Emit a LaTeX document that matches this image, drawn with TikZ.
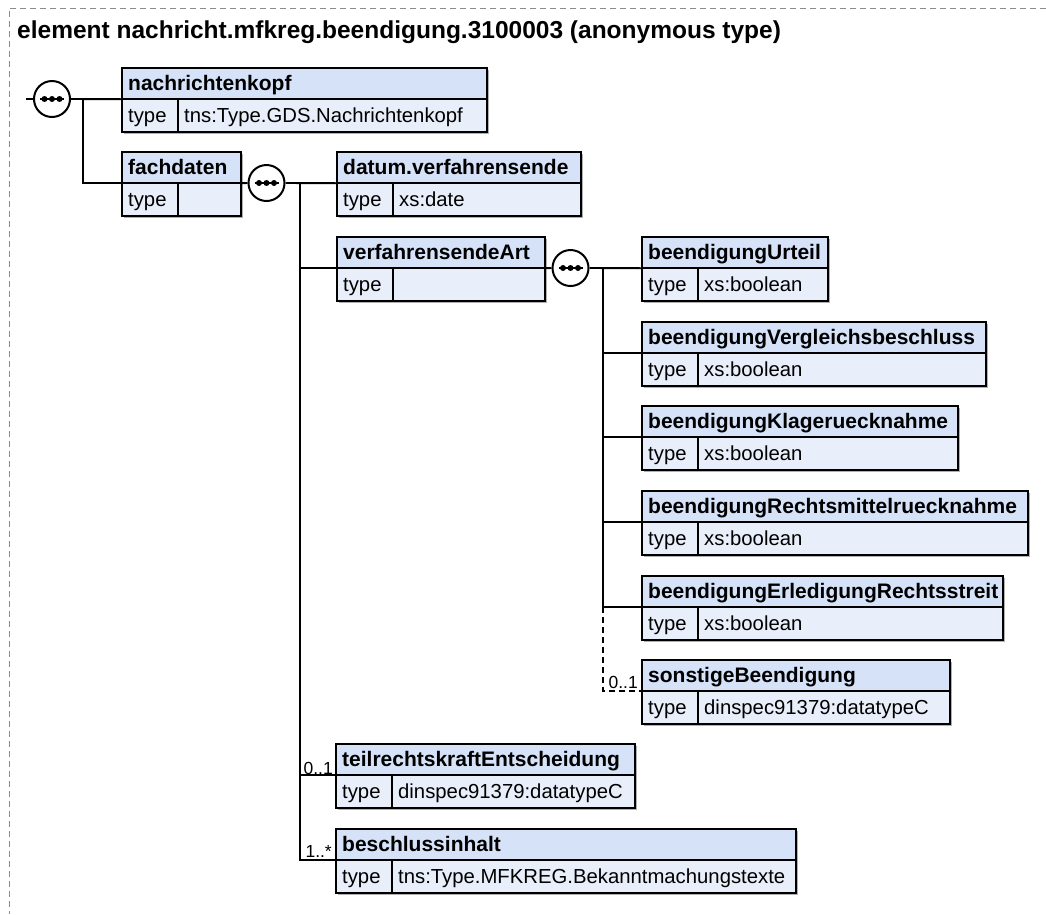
\documentclass[tikz,border=0pt]{standalone}
\usepackage{fontspec}
\setmainfont{Liberation Sans}
\usetikzlibrary{calc}
\definecolor{hdrc}{HTML}{D5E2F8}
\definecolor{bdyc}{HTML}{E9EFFA}
\definecolor{shc}{HTML}{B0B0B0}
\tikzset{
  boxline/.style={line width=2pt, draw=black},
  conn/.style={line width=1.9pt, draw=black},
  optconn/.style={line width=1.9pt, draw=black, dash pattern=on 6pt off 4pt},
  hfont/.style={font=\fontsize{21}{25}\selectfont\bfseries, inner sep=0pt, anchor=base west},
  tfont/.style={font=\fontsize{20.3}{24}\selectfont, inner sep=0pt, anchor=base west},
  mfont/.style={font=\fontsize{17.5}{20}\selectfont, inner sep=0pt, anchor=base east},
  seqc/.style={circle, draw=black, line width=2pt, fill=white, minimum size=36pt, inner sep=0pt},
  frame/.style={draw=black!45, line width=1pt, dash pattern=on 6pt off 4pt}
}
% #1 name, #2 x, #3 top y, #4 width, #5 title, #6 type value
\newcommand\ebox[6]{%
  \fill[shc] (#2+2,#3+2) rectangle ++(#4,64);
  \fill[hdrc] (#2,#3) rectangle ++(#4,31);
  \fill[bdyc] (#2,#3+31) rectangle ++(#4,33);
  \draw[boxline] (#2,#3) rectangle ++(#4,64);
  \draw[boxline] (#2,#3+31) -- ++(#4,0);
  \draw[boxline] (#2+56,#3+31) -- ++(0,33);
  \node[hfont] (#1-t) at (#2+6,#3+22.5) {#5};
  \node[tfont] (#1-k) at (#2+6,#3+54) {type};
  \node[tfont] (#1-v) at (#2+62,#3+54) {#6};
  \node[inner sep=0pt, minimum width=#4pt, minimum height=62pt, anchor=north west] (#1) at (#2,#3) {};
}
\newcommand\seqsym[3]{%
  \node[seqc] (#1) at (#2,#3) {};
  \draw[line width=2pt] ($(#1.center)+(-12,0)$) -- ($(#1.center)+(12,0)$);
  \fill ($(#1.center)+(-7.5,0)$) circle (3pt);
  \fill ($(#1.center)+(0,0)$) circle (3pt);
  \fill ($(#1.center)+(7.5,0)$) circle (3pt);
}
\begin{document}
\begin{tikzpicture}[x=1pt, y=-1pt]
\useasboundingbox (0,0) rectangle (1046,914);
% frame
\draw[frame] (1046,8) -- (9,8) -- (9,914);
\node[font=\fontsize{24.5}{28}\selectfont\bfseries, inner sep=0pt, anchor=base west] (title) at (17,38) {element nachricht.mfkreg.beendigung.3100003 (anonymous type)};

% boxes
\ebox{nk}{122}{68}{365}{nachrichtenkopf}{tns:Type.GDS.Nachrichtenkopf}
\ebox{fd}{122}{152}{119}{fachdaten}{}
\ebox{dv}{337}{152}{244}{datum.verfahrensende}{xs:date}
\ebox{va}{337}{237}{208}{verfahrensendeArt}{}
\ebox{bu}{642}{237}{186}{beendigungUrteil}{xs:boolean}
\ebox{bv}{642}{322}{344}{beendigungVergleichsbeschluss}{xs:boolean}
\ebox{bk}{642}{406}{316}{beendigungKlageruecknahme}{xs:boolean}
\ebox{br}{642}{491}{386}{beendigungRechtsmittelruecknahme}{xs:boolean}
\ebox{be}{642}{576}{361}{beendigungErledigungRechtsstreit}{xs:boolean}
\ebox{sb}{642}{660}{308}{sonstigeBeendigung}{dinspec91379:datatypeC}
\ebox{te}{336}{744}{299}{teilrechtskraftEntscheidung}{dinspec91379:datatypeC}
\ebox{bi}{336}{829}{460}{beschlussinhalt}{tns:Type.MFKREG.Bekanntmachungstexte}

% sequence symbols
\seqsym{s1}{52}{99}
\seqsym{s2}{266.5}{183}
\seqsym{s3}{570.5}{268}

% connectors
\coordinate (start) at (26,99);
\coordinate (j1) at (83,99);
\coordinate (j2) at (300,183);
\coordinate (j3) at (603,268);
\draw[conn] (start) -- (s1.west);
\draw[conn] (s1.east) -- (nk.west);
\draw[conn] (j1) |- (fd.west);
\draw[conn] (fd.east) -- (s2.west);
\draw[conn] (s2.east) -- (dv.west);
\draw[conn] (j2) |- (va.west);
\draw[conn] (j2) |- (te.west);
\draw[conn] (j2) |- (bi.west);
\draw[conn] (va.east) -- (s3.west);
\draw[conn] (s3.east) -- (bu.west);
\draw[conn] (j3) |- (bv.west);
\draw[conn] (j3) |- (bk.west);
\draw[conn] (j3) |- (br.west);
\draw[conn] (j3) |- (be.west);
\coordinate (j4) at (j3 |- be.west);
\draw[optconn] (j4) |- (sb.west);

% multiplicities
\node[mfont] (m1) at ($(sb.west)+(-4,-3)$) {0..1};
\node[mfont] (m2) at ($(te.west)+(-3,-1)$) {0..1};
\node[mfont] (m3) at ($(bi.west)+(-4,-3)$) {1..*};
\end{tikzpicture}
\end{document}
